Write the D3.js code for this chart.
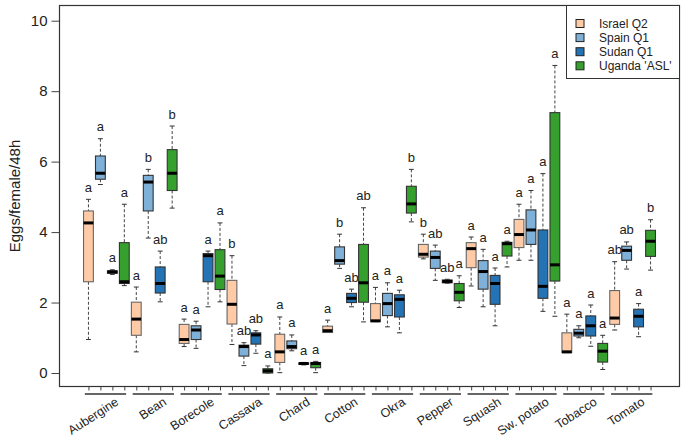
<!DOCTYPE html>
<html>
<head>
<meta charset="utf-8">
<script src="https://cdn.jsdelivr.net/npm/d3@7"></script>
<style>
  html, body { margin: 0; padding: 0; background: #fff; }
  svg { display: block; font-family: "Liberation Sans", Arial, sans-serif; }
</style>
</head>
<body>
<svg id="chart" width="685" height="437"></svg>
<script>
// ---- data ----
const crops = ["Aubergine","Bean","Borecole","Cassava","Chard","Cotton","Okra","Pepper","Squash","Sw. potato","Tobacco","Tomato"];
const countries = ["Israel Q2","Spain Q1","Sudan Q1","Uganda 'ASL'"];
const colors = ["#FFCBA6","#7FB0D8","#2473B5","#35A02D"];
const yTicks = [0, 2, 4, 6, 8, 10];

// each entry: [lower whisker, Q1, median, Q3, upper whisker]
const israel = [
  [0.95,2.59,4.26,4.60,4.93],[0.60,1.07,1.53,2.01,2.44],[0.75,0.84,0.95,1.38,1.53],[0.81,1.39,1.95,2.63,3.33],
  [0.01,0.30,0.60,1.10,1.59],[1.15,1.15,1.20,1.33,1.50],[1.46,1.46,1.48,1.97,2.43],[3.24,3.29,3.37,3.65,3.94],
  [2.47,2.99,3.53,3.70,3.86],[3.20,3.56,3.93,4.36,4.79],[0.58,0.58,0.60,1.14,1.67],[1.22,1.38,1.56,2.34,3.16]];
const spain = [
  [5.35,5.50,5.67,6.16,6.65],[3.83,4.60,5.42,5.61,5.78],[0.70,0.95,1.22,1.34,1.47],[0.21,0.48,0.75,0.79,0.86],
  [0.63,0.69,0.75,0.91,1.08],[2.97,3.09,3.19,3.58,3.94],[1.31,1.63,1.97,2.26,2.56],[2.63,2.97,3.28,3.46,3.63],
  [1.88,2.38,2.88,3.19,3.51],[3.20,3.65,4.06,4.63,5.18],[1.00,1.05,1.13,1.24,1.34],[2.95,3.20,3.48,3.60,3.72]];
const sudan = [
  [2.80,2.83,2.87,2.90,2.93],[2.02,2.27,2.54,3.01,3.46],[1.88,2.59,3.33,3.39,3.46],[0.56,0.82,1.08,1.14,1.20],
  [0.23,0.25,0.27,0.28,0.30],[1.88,2.00,2.12,2.26,2.38],[1.14,1.59,2.09,2.22,2.35],[2.55,2.56,2.60,2.64,2.66],
  [1.34,1.95,2.54,2.77,2.98],[1.75,2.12,2.46,4.06,5.66],[0.76,1.05,1.34,1.62,1.93],[1.03,1.31,1.61,1.81,1.97]];
const uganda = [
  [2.48,2.54,2.59,3.70,4.79],[4.68,5.18,5.67,6.34,7.01],[2.02,2.37,2.75,3.50,4.26],[0.00,0.00,0.06,0.12,0.20],
  [0.01,0.15,0.27,0.30,0.33],[1.45,2.01,2.56,3.65,4.69],[4.29,4.54,4.80,5.30,5.78],[1.86,2.05,2.29,2.54,2.76],
  [3.01,3.32,3.67,3.71,3.74],[1.61,2.61,3.07,7.39,8.73],[0.10,0.31,0.62,0.84,1.07],[2.92,3.31,3.74,4.05,4.35]];

const israelLetters = ["a","a","a","b","a","a","a","b","a","a","a","ab"];
const spainLetters  = ["a","b","a","ab","a","b","a","ab","a","a","a","ab"];
const sudanLetters  = ["a","ab","a","ab","a","ab","a","ab","a","a","a","a"];
const ugandaLetters = ["a","b","a","a","a","ab","b","a","a","a","a","b"];

const seriesStats = [israel, spain, sudan, uganda];
const seriesLetters = [israelLetters, spainLetters, sudanLetters, ugandaLetters];

// ---- layout ----
const svg = d3.select("#chart");
const frame = {left: 59.5, right: 679.5, top: 5.5, bottom: 386.5};
const nBox = crops.length * countries.length;
const x = d3.scaleLinear()
  .domain([0.5 - 0.04 * nBox, nBox + 0.5 + 0.04 * nBox])
  .range([frame.left, frame.right]);
const y = d3.scaleLinear().domain([0, 10]).range([373, 20.7]);
const unit = x(2) - x(1);
const boxW = unit * 0.82;
const capW = boxW * 0.5;

// flatten boxes
const boxes = [];
crops.forEach((c, ci) => {
  countries.forEach((s, si) => {
    const st = seriesStats[si][ci];
    boxes.push({crop: c, ci, si, pos: ci * 4 + si + 1,
      lo: st[0], q1: st[1], med: st[2], q3: st[3], hi: st[4],
      letter: seriesLetters[si][ci]});
  });
});

// y axis ticks
const yAxis = d3.axisLeft(y).tickValues(yTicks).tickSize(8).tickPadding(4).tickFormat(d3.format("d"));
const gy = svg.append("g").attr("transform", `translate(${frame.left},0)`).call(yAxis);
gy.select(".domain").remove();
gy.selectAll(".tick line").attr("stroke", "#444");
gy.selectAll(".tick text").attr("font-size", 15).attr("fill", "#222")
  .attr("font-family", "Liberation Sans, Arial, sans-serif");

svg.append("text")
  .attr("transform", `translate(20,${(frame.top + frame.bottom) / 2}) rotate(-90)`)
  .attr("text-anchor", "middle")
  .attr("font-size", 15).attr("fill", "#222")
  .text("Eggs/female/48h");

// x axis ticks at each box position
const xAxis = d3.axisBottom(x).tickValues(d3.range(1, nBox + 1)).tickSize(4).tickFormat("");
const gx = svg.append("g").attr("transform", `translate(0,${frame.bottom})`).call(xAxis);
gx.select(".domain").remove();
gx.selectAll(".tick line").attr("stroke", "#444");

// group lines and labels
crops.forEach((c, ci) => {
  const p0 = ci * 4 + 1, p1 = ci * 4 + 4;
  svg.append("line")
    .attr("x1", x(p0 - 0.3)).attr("x2", x(p1 + 0.15))
    .attr("y1", 394).attr("y2", 394)
    .attr("stroke", "#666").attr("stroke-width", 2);
  const cx = x((p0 + p1) / 2) + 13;
  svg.append("text")
    .attr("transform", `translate(${cx},404) rotate(-33)`)
    .attr("text-anchor", "end")
    .attr("font-size", 12.5).attr("fill", "#222")
    .text(c);
});

// boxes
const g = svg.append("g");
const bg = g.selectAll("g.box").data(boxes).join("g").attr("class", "box");
const strokeCol = d => d.si === 0 ? "#666" : "#333";
// whiskers (dashed)
bg.append("line").attr("x1", d => x(d.pos)).attr("x2", d => x(d.pos))
  .attr("y1", d => y(d.hi)).attr("y2", d => y(d.q3))
  .attr("stroke", "#444").attr("stroke-width", 1).attr("stroke-dasharray", "3,2");
bg.append("line").attr("x1", d => x(d.pos)).attr("x2", d => x(d.pos))
  .attr("y1", d => y(d.q1)).attr("y2", d => y(d.lo))
  .attr("stroke", "#444").attr("stroke-width", 1).attr("stroke-dasharray", "3,2");
// caps
bg.append("line").attr("x1", d => x(d.pos) - capW / 2).attr("x2", d => x(d.pos) + capW / 2)
  .attr("y1", d => y(d.hi)).attr("y2", d => y(d.hi)).attr("stroke", "#333");
bg.append("line").attr("x1", d => x(d.pos) - capW / 2).attr("x2", d => x(d.pos) + capW / 2)
  .attr("y1", d => y(d.lo)).attr("y2", d => y(d.lo)).attr("stroke", "#333");
// box
bg.append("rect")
  .attr("x", d => x(d.pos) - boxW / 2).attr("width", boxW)
  .attr("y", d => y(d.q3)).attr("height", d => Math.max(1, y(d.q1) - y(d.q3)))
  .attr("fill", d => colors[d.si]).attr("stroke", strokeCol).attr("stroke-width", 1.1);
// median
bg.append("line").attr("x1", d => x(d.pos) - boxW / 2).attr("x2", d => x(d.pos) + boxW / 2)
  .attr("y1", d => y(d.med)).attr("y2", d => y(d.med))
  .attr("stroke", "#000").attr("stroke-width", 3);
// letters
bg.append("text")
  .attr("x", d => x(d.pos)).attr("y", d => y(d.hi) - 7.5)
  .attr("text-anchor", "middle").attr("font-size", 13).attr("fill", "#222")
  .text(d => d.letter);

// frame
svg.append("rect")
  .attr("x", frame.left).attr("y", frame.top)
  .attr("width", frame.right - frame.left).attr("height", frame.bottom - frame.top)
  .attr("fill", "none").attr("stroke", "#333").attr("stroke-width", 1.2);

// legend
const leg = svg.append("g");
leg.append("rect").attr("x", 566.5).attr("y", frame.top).attr("width", frame.right - 566.5).attr("height", 73)
  .attr("fill", "#fff").attr("stroke", "#333").attr("stroke-width", 1);
countries.forEach((s, i) => {
  const cy = 23.5 + i * 14.1;
  leg.append("rect").attr("x", 576).attr("y", cy - 4).attr("width", 8).attr("height", 8)
    .attr("fill", colors[i]).attr("stroke", "#222").attr("stroke-width", 1);
  leg.append("text").attr("x", 599).attr("y", cy + 4.2)
    .attr("font-size", 12).attr("fill", "#222").text(s);
});
</script>
</body>
</html>
